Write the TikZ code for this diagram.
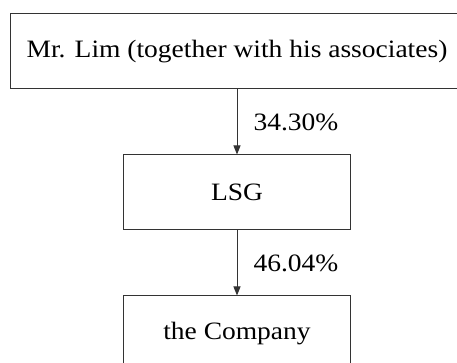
\documentclass[tikz,border=0pt]{standalone}
\usepackage{fontspec}
\setmainfont{Liberation Serif}[FakeStretch=1.1]
\usetikzlibrary{arrows.meta, positioning}

\tikzset{
	holder/.style={draw=black!80, line width=1pt, minimum height=75pt, inner sep=0pt,
		font=\fontsize{25}{30}\selectfont},
	share/.style={-{Triangle[length=9pt, width=7pt]}, draw=black!80, line width=1pt},
	pct/.style={font=\fontsize{25}{30}\selectfont, inner sep=0pt}
}

\begin{document}
\begin{tikzpicture}[x=1pt, y=1pt]
				\useasboundingbox (0,0) rectangle (457,363);
				\clip (0,0) rectangle (457,363);
				% Boxes
				\node[holder, minimum width=454pt] (lim) at (237,311.5) {Mr. Lim (together with his associates)};
				\node[holder, minimum width=227pt, below=65pt of lim] (lsg) {LSG};
				\node[holder, minimum width=227pt, below=65pt of lsg] (company) {the Company};
				
				% Arrows
				\draw[share] (lim) -- node[pct, right=16pt] {34.30\%} (lsg);
				\draw[share] (lsg) -- node[pct, right=16pt] {46.04\%} (company);
				
			\end{tikzpicture}
\end{document}
